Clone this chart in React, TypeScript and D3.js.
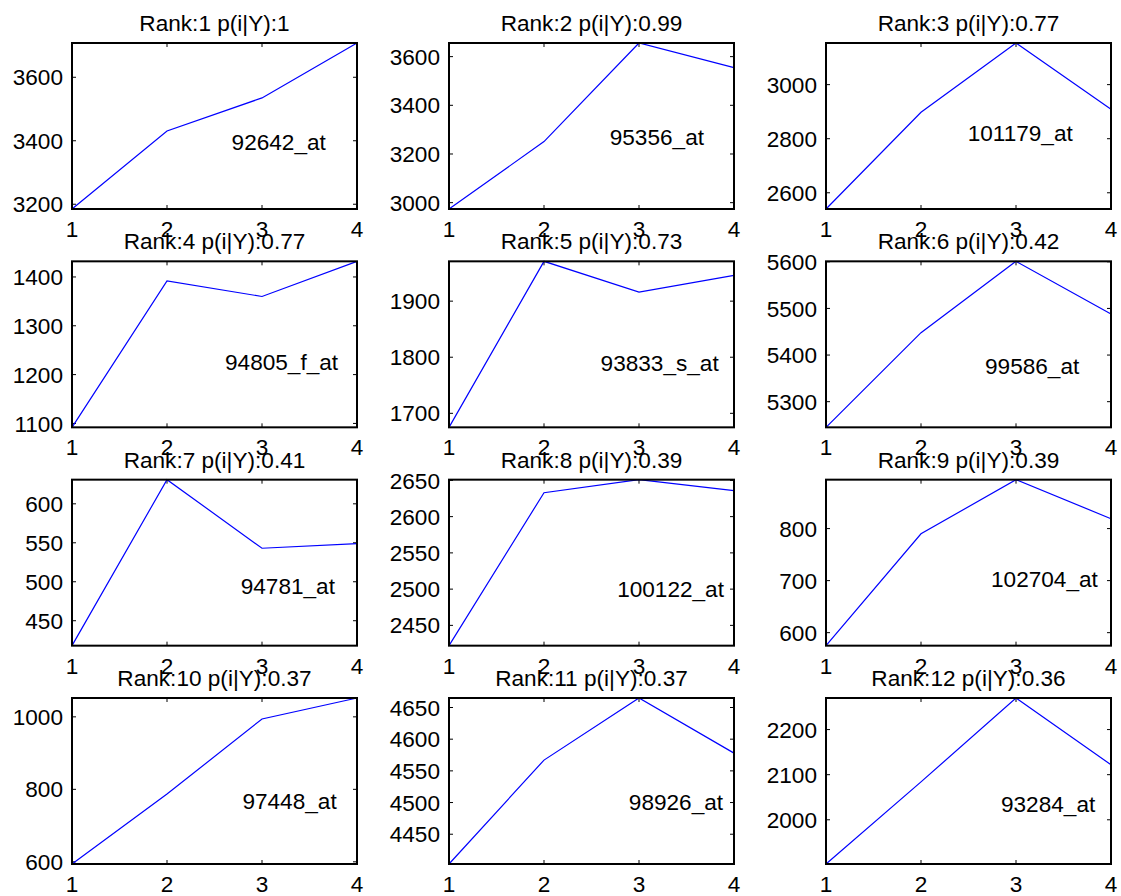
import React, { useEffect, useRef } from 'react';
import * as d3 from 'd3';

const steps = [1, 2, 3, 4];

const ranks = [1, 2, 3, 4, 5, 6, 7, 8, 9, 10, 11, 12];
const probs = ['1', '0.99', '0.77', '0.77', '0.73', '0.42', '0.41', '0.39', '0.39', '0.37', '0.37', '0.36'];
const probes = ['92642_at', '95356_at', '101179_at', '94805_f_at', '93833_s_at', '99586_at',
    '94781_at', '100122_at', '102704_at', '97448_at', '98926_at', '93284_at'];

const series = [
    [3185, 3431, 3535, 3708],
    [2974, 3251, 3656, 3555],
    [2540, 2898, 3154, 2909],
    [1092, 1392, 1360, 1432],
    [1675, 1971, 1916, 1946],
    [5245, 5448, 5601, 5488],
    [418, 631, 543, 549],
    [2422, 2633, 2651, 2636],
    [575, 790, 894, 819],
    [594, 787, 994, 1052],
    [4403, 4567, 4665, 4578],
    [1902, 2084, 2270, 2122],
];

const yTicks = [
    [3200, 3400, 3600],
    [3000, 3200, 3400, 3600],
    [2600, 2800, 3000],
    [1100, 1200, 1300, 1400],
    [1700, 1800, 1900],
    [5300, 5400, 5500, 5600],
    [450, 500, 550, 600],
    [2450, 2500, 2550, 2600, 2650],
    [600, 700, 800],
    [600, 800, 1000],
    [4450, 4500, 4550, 4600, 4650],
    [2000, 2100, 2200],
];

// where each probe name sits, as a fraction of the axes box
const labelFx = [0.56, 0.564, 0.497, 0.537, 0.532, 0.558, 0.592, 0.59, 0.579, 0.598, 0.631, 0.614];
const labelFy = [0.595, 0.564, 0.54, 0.604, 0.614, 0.63, 0.64, 0.657, 0.6, 0.618, 0.628, 0.64];

const W = 1121, H = 896;
const FONT = '"Liberation Sans", Arial, Helvetica, sans-serif';
const FS = 22.6;

const App = () => {
    const ref = useRef<SVGSVGElement>(null);

    useEffect(() => {
        const svg = d3.select(ref.current);
        svg.selectAll('*').remove();

        const pw = 285, ph = 166;
        const col = d3.scaleLinear().domain([0, 2]).range([72, 826]);
        const row = d3.scaleLinear().domain([0, 3]).range([43, 698]);

        series.forEach((vals, i) => {
            const left = col(i % 3);
            const top = row(Math.floor(i / 3));
            const g = svg.append('g').attr('transform', `translate(${left},${top})`);

            const x = d3.scaleLinear().domain([1, 4]).range([0, pw]);
            const y = d3.scaleLinear().domain(d3.extent(vals) as [number, number]).range([ph, 0]);

            // ticks, mirrored on all four sides like matlab's box
            const tl = 4;
            steps.forEach(s => {
                g.append('line').attr('x1', x(s)).attr('x2', x(s)).attr('y1', ph).attr('y2', ph - tl)
                    .attr('stroke', '#000');
                g.append('line').attr('x1', x(s)).attr('x2', x(s)).attr('y1', 0).attr('y2', tl)
                    .attr('stroke', '#000');
                g.append('text')
                    .attr('x', x(s)).attr('y', ph + 28)
                    .attr('text-anchor', 'middle')
                    .attr('font-family', FONT).attr('font-size', FS)
                    .text(s);
            });
            yTicks[i].forEach(t => {
                g.append('line').attr('x1', 0).attr('x2', tl).attr('y1', y(t)).attr('y2', y(t))
                    .attr('stroke', '#000');
                g.append('line').attr('x1', pw).attr('x2', pw - tl).attr('y1', y(t)).attr('y2', y(t))
                    .attr('stroke', '#000');
                g.append('text')
                    .attr('x', -9).attr('y', y(t)).attr('dy', '0.36em')
                    .attr('text-anchor', 'end')
                    .attr('font-family', FONT).attr('font-size', FS)
                    .text(t);
            });

            const line = d3.line<number>()
                .x((_, j) => x(steps[j]))
                .y(d => y(d));

            g.append('path')
                .datum(vals)
                .attr('d', line)
                .attr('fill', 'none')
                .attr('stroke', '#0000ff')
                .attr('stroke-width', 1.2);

            g.append('rect')
                .attr('width', pw).attr('height', ph)
                .attr('fill', 'none')
                .attr('stroke', '#000')
                .attr('stroke-width', 2);

            g.append('text')
                .attr('x', pw / 2).attr('y', -12)
                .attr('text-anchor', 'middle')
                .attr('font-family', FONT).attr('font-size', FS)
                .text(`Rank:${ranks[i]} p(i|Y):${probs[i]}`);

            g.append('text')
                .attr('x', labelFx[i] * pw).attr('y', labelFy[i] * ph).attr('dy', '0.36em')
                .attr('font-family', FONT).attr('font-size', FS)
                .text(probes[i]);
        });
    }, []);

    return (
        <svg ref={ref} width={W} height={H}
            style={{ position: 'absolute', left: 0, top: 0, background: '#fff' }} />
    );
};

export default App;
